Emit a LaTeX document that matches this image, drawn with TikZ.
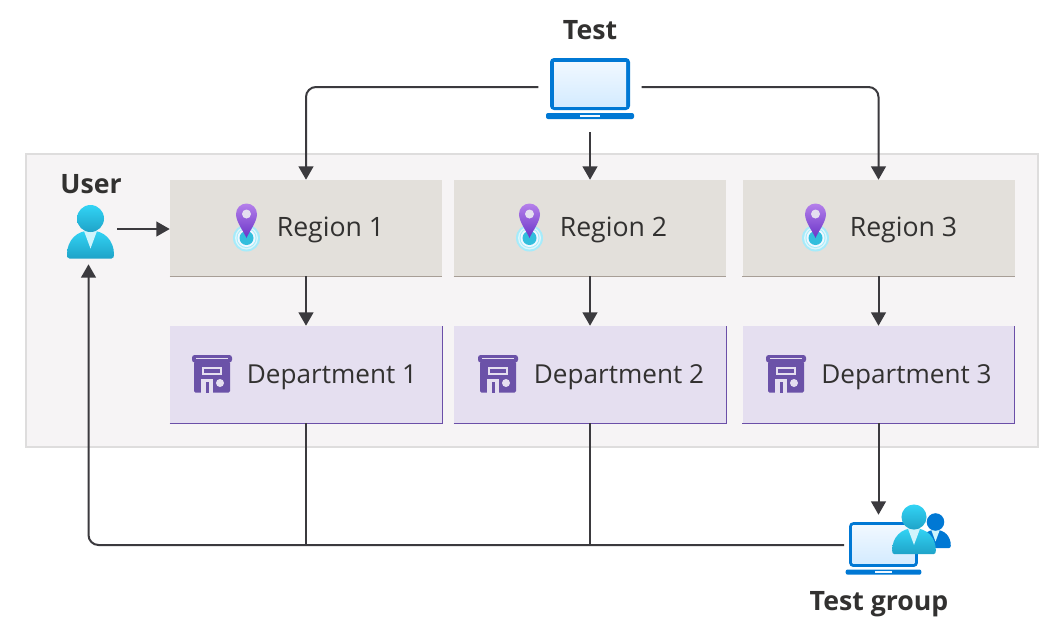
\documentclass[tikz,border=0pt]{standalone}
\usepackage{fontspec}
\setmainfont{Open Sans}
\usetikzlibrary{arrows.meta,calc}
\definecolor{txt}{HTML}{323130}
\definecolor{wire}{HTML}{3B3A3E}
\definecolor{panel}{HTML}{F6F4F5}
\definecolor{panelline}{HTML}{DEDDDD}
\definecolor{regionfill}{HTML}{E3E0DB}
\definecolor{regionline}{HTML}{A79E96}
\definecolor{deptfill}{HTML}{E5DFF0}
\definecolor{deptline}{HTML}{6B4FA8}
\definecolor{azure}{HTML}{0078D4}
\definecolor{screenhi}{HTML}{F0F8FF}
\definecolor{screenlo}{HTML}{D4EBFF}
\definecolor{personhi}{HTML}{32D4F5}
\definecolor{personlo}{HTML}{1FA3C8}
\definecolor{collar}{HTML}{CFF4FC}
\definecolor{ringcol}{HTML}{A6EBFA}
\definecolor{ringpale}{HTML}{DDF6FC}
\definecolor{targetcol}{HTML}{32BEDD}
\definecolor{pinhi}{HTML}{B580EA}
\definecolor{pinlo}{HTML}{6A35C8}
\definecolor{storecol}{HTML}{6B52A8}
\tikzset{
  pics/laptop/.style={code={
    \fill[azure,rounded corners=3] (-40,-30) rectangle (40,22);
    \shade[top color=screenhi,bottom color=screenlo] (-36,-26) rectangle (36,18);
    \fill[azure,rounded corners=1.5] (-44,25) rectangle (44,31);
    \fill[screenhi] (-10,27) rectangle (10,29);
  }},
  pics/person/.style n args={3}{code={
    \shade[top color=#1,bottom color=#2]
      (-21,40) .. controls (-23,40) and (-23.5,38) .. (-23.5,36)
      .. controls (-23.5,22) and (-14,12) .. (0,12)
      .. controls (14,12) and (23.5,22) .. (23.5,36)
      .. controls (23.5,38) and (23,40) .. (21,40) -- cycle;
    \fill[#3] (-6.5,12.5) -- (6.5,12.5) -- (0,30) -- cycle;
    \shade[top color=#1,bottom color=#2] (0,0) circle (13.5);
  }},
  pics/pin/.style={code={
    \fill[ringcol] (0,24) circle (13.5);
    \fill[ringpale] (0,24) circle (11.5);
    \fill[ringcol] (0,24) circle (10);
    \fill[screenhi] (0,24) circle (9);
    \fill[targetcol] (0,24) circle (7);
    \shade[top color=pinhi,bottom color=pinlo]
      (0,24) .. controls (-3,17) and (-10.5,8) .. (-10.5,0)
      arc[start angle=180,end angle=360,radius=10.5]
      .. controls (10.5,8) and (3,17) .. (0,24) -- cycle;
    \fill[deptfill] (0,0) circle (4.5);
  }},
  pics/store/.style={code={
    \fill[storecol,rounded corners=1] (-18,-12) rectangle (18,19);
    \fill[storecol,rounded corners=2] (-20,-18.5) rectangle (20,-11);
    \fill[deptfill] (-16,-16) rectangle (16,-15);
    \fill[deptfill] (-10,-7) rectangle (10,1.5);
    \fill[storecol] (-8,-5) rectangle (8,-1);
    \fill[deptfill] (-11,5) rectangle (1,19);
    \fill[storecol] (-6.5,8) rectangle (-3.5,19);
    \fill[deptfill] (8,9.5) circle (4);
  }}
}
\begin{document}
\begin{tikzpicture}[x=0.75pt,y=-0.75pt,font=\fontsize{20}{24}\selectfont,text=txt,
  >={Triangle[length=10pt,width=11pt]},
  wires/.style={draw=wire,line width=1.5pt,rounded corners=7.5pt},
  regionbox/.style={fill=regionfill,minimum width=204pt,minimum height=72pt,inner sep=0pt},
  deptbox/.style={fill=deptfill,minimum width=204pt,minimum height=72.75pt,inner sep=0pt},
  hold/.style={inner sep=0pt,minimum width=#1},
  heading/.style={font=\fontsize{20}{24}\selectfont\bfseries}]
  \useasboundingbox (0,0) rectangle (1057,637);
  \fill[white] (0,0) rectangle (1057,637);
  \draw[panelline,fill=panel,line width=0.9pt] (26,154) rectangle (1038,447);
  % boxes
  \foreach \i/\x/\lx/\dx in {1/306/330.5/332,2/590/613.5/619,3/878.5/903.5/906.5}
  {
    \node[regionbox] (region\i) at (\x,228) {};
    \node[deptbox] (dept\i) at (\x,374.5) {};
    \draw[regionline,line width=0.75pt] (region\i.south west) -- (region\i.south east);
    \draw[deptline,line width=0.75pt] (dept\i.south west) -- (dept\i.south east) -- (dept\i.north east);
    \node (regionlabel\i) at (\lx,230) {Region \i};
    \node[font=\fontsize{19.6}{24}\selectfont] (deptlabel\i) at (\dx,377) {Department \i};
    \draw[wires,->] (region\i) -- (dept\i);
  }
  \pic at (246.5,214) {pin};
  \pic at (529.5,214) {pin};
  \pic at (815.5,214) {pin};
  \pic at (212,373.5) {store};
  \pic at (498,373.5) {store};
  \pic at (786,373.5) {store};
  % icons
  \node[hold=77pt,minimum height=67.5pt] (test) at (590,87) {};
  \pic at (590,88) {laptop};
  \node[heading] (testlabel) at (590,30) {Test};
  \node[hold=42.75pt,minimum height=49.5pt] (user) at (88.5,231) {};
  \pic at (90.5,218.5) {person={personhi}{personlo}{collar}};
  \node[heading] (userlabel) at (91,184) {User};
  \node[hold=51pt,minimum height=45pt] (group) at (878.5,545) {};
  \pic[scale=0.86] at (883.5,548) {laptop};
  \pic[scale=0.65] at (935.5,522) {person={azure}{azure}{collar}};
  \pic[scale=0.93] at (914,517) {person={personhi}{personlo}{collar}};
  \node[heading] (grouplabel) at (879,604) {Test group};
  % connectors
  \draw[wires,->] (test.west) -| (region1.north);
  \draw[wires,->] (test.south) -- (region2.north);
  \draw[wires,->] (test.east) -| (region3.north);
  \draw[wires,->] ($(user.east)+(0,-2)$) -- ($(region1.west)+(0,1)$);
  \draw[wires,->] (dept3.south) -- (group.north);
  \draw[wires,->] (group.west) -| (user.south);
  \draw[wires] (dept1.south) -- (dept1.south |- group.west);
  \draw[wires] (dept2.south) -- (dept2.south |- group.west);
\end{tikzpicture}
\end{document}
